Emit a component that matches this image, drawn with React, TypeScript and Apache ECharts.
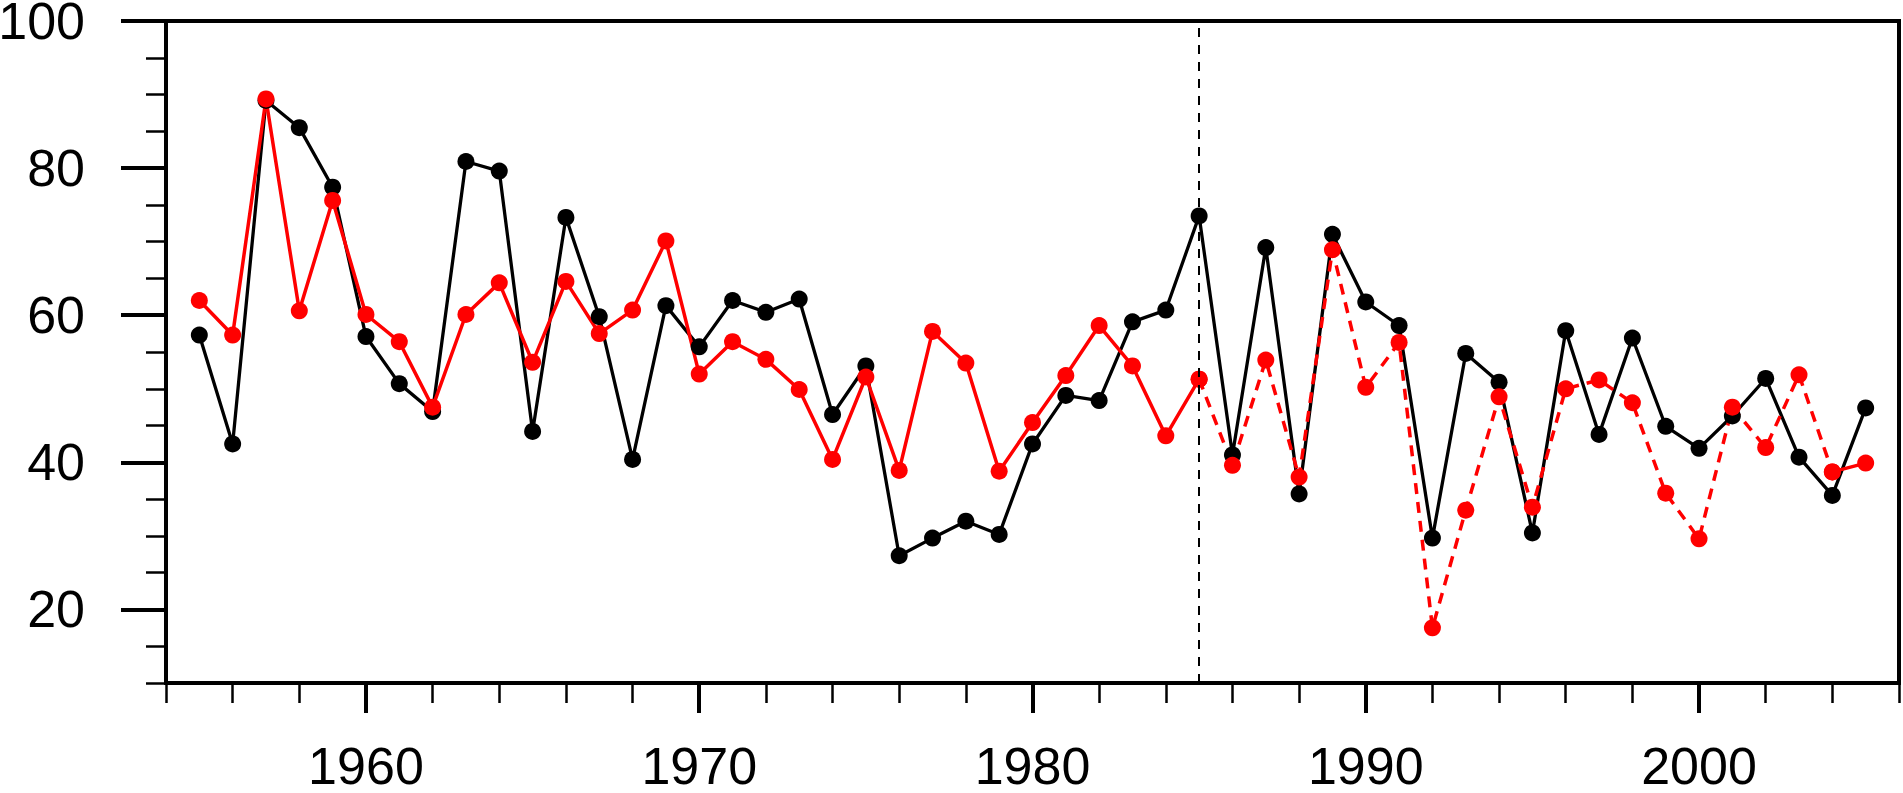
import React, { useEffect, useRef } from "react";
import * as echarts from "echarts";

const years: number[] = [
  1955, 1956, 1957, 1958, 1959, 1960, 1961, 1962, 1963, 1964,
  1965, 1966, 1967, 1968, 1969, 1970, 1971, 1972, 1973, 1974,
  1975, 1976, 1977, 1978, 1979, 1980, 1981, 1982, 1983, 1984,
  1985, 1986, 1987, 1988, 1989, 1990, 1991, 1992, 1993, 1994,
  1995, 1996, 1997, 1998, 1999, 2000, 2001, 2002, 2003, 2004, 2005,
];

const blackValues: number[] = [
  57.3, 42.5, 89.2, 85.5, 77.4, 57.1, 50.7, 46.9, 80.9, 79.6,
  44.2, 73.3, 59.8, 40.4, 61.3, 55.7, 62.0, 60.4, 62.2, 46.5,
  53.1, 27.3, 29.7, 32.0, 30.2, 42.5, 49.1, 48.4, 59.1, 60.7,
  73.5, 41.0, 69.2, 35.7, 71.0, 61.8, 58.6, 29.7, 54.8, 50.9,
  30.4, 57.9, 43.8, 56.9, 44.9, 41.9, 46.3, 51.4, 40.7, 35.5, 47.4,
];

const redValues: number[] = [
  62.0, 57.3, 89.4, 60.6, 75.6, 60.1, 56.4, 47.5, 60.1, 64.4,
  53.6, 64.6, 57.5, 60.7, 70.1, 52.0, 56.4, 54.0, 49.9, 40.4,
  51.6, 38.9, 57.8, 53.5, 38.8, 45.4, 51.8, 58.6, 53.1, 43.6,
  51.3, 39.6, 53.9, 38.0, 68.9, 50.2, 56.3, 17.5, 33.5, 48.9,
  33.9, 50.0, 51.2, 48.1, 35.8, 29.6, 47.5, 42.0, 51.9, 38.7, 39.9,
];

const xLabelValues: number[] = [1960, 1970, 1980, 1990, 2000];
const yLabelValues: number[] = [20, 40, 60, 80, 100];
const splitYear = 1985;
const dashEndYear = 2004;

export default function App() {
  const ref = useRef<HTMLDivElement>(null);

  useEffect(() => {
    document.body.style.margin = "0";
    document.body.style.overflow = "hidden";
    if (!ref.current) return;
    const chart = echarts.init(ref.current, null, { renderer: "svg" });

    const pairs = (vals: number[], from: number, to: number) =>
      years
        .map((y, i) => [y, vals[i]])
        .filter((p) => p[0] >= from && p[0] <= to);

    const font = "Liberation Sans";
    const red = "#ff0000";

    const redBase = {
      type: "line",
      symbol: "circle",
      symbolSize: 17,
      itemStyle: { color: red },
      lineStyle: { color: red, width: 3.5 },
      xAxisIndex: 0,
      yAxisIndex: 0,
      silent: true,
    };

    chart.setOption({
      animation: false,
      backgroundColor: "#ffffff",
      grid: {
        left: 166,
        right: 4,
        top: 21,
        bottom: 110,
        show: true,
        borderColor: "#000",
        borderWidth: 4,
        containLabel: false,
        outerBoundsMode: "none",
      },
      xAxis: [
        {
          type: "value",
          min: 1954,
          max: 2006,
          interval: 2,
          position: "bottom",
          axisLine: { show: true, onZero: false, lineStyle: { color: "#000", width: 4 } },
          axisTick: { show: true, length: 20, lineStyle: { color: "#000", width: 2.5 } },
          axisLabel: {
            show: true,
            customValues: xLabelValues,
            formatter: (v: number) => String(v),
            fontSize: 52,
            fontFamily: font,
            color: "#000",
            margin: 57,
          },
          splitLine: { show: false },
        },
        {
          type: "value",
          min: 1954,
          max: 2006,
          position: "bottom",
          offset: 0,
          axisLine: { show: false, onZero: false },
          axisTick: {
            show: true,
            customValues: xLabelValues,
            length: 30,
            lineStyle: { color: "#000", width: 4 },
          },
          axisLabel: { show: false },
          splitLine: { show: false },
        },
      ],
      yAxis: [
        {
          type: "value",
          min: 10,
          max: 100,
          interval: 5,
          position: "left",
          axisLine: { show: true, onZero: false, lineStyle: { color: "#000", width: 4 } },
          axisTick: { show: true, length: 20, lineStyle: { color: "#000", width: 2.5 } },
          axisLabel: {
            show: true,
            customValues: yLabelValues,
            formatter: (v: number) => String(v),
            fontSize: 52,
            fontFamily: font,
            color: "#000",
            margin: 81,
          },
          splitLine: { show: false },
        },
        {
          type: "value",
          min: 10,
          max: 100,
          position: "left",
          offset: 0,
          axisLine: { show: false, onZero: false },
          axisTick: {
            show: true,
            customValues: yLabelValues,
            length: 45,
            lineStyle: { color: "#000", width: 4 },
          },
          axisLabel: { show: false },
          splitLine: { show: false },
        },
      ],
      series: [
        {
          type: "line",
          data: pairs(blackValues, 1955, 2005),
          symbol: "circle",
          symbolSize: 17,
          itemStyle: { color: "#000" },
          lineStyle: { color: "#000", width: 3.3 },
          xAxisIndex: 0,
          yAxisIndex: 0,
          silent: true,
          markLine: {
            silent: true,
            symbol: "none",
            label: { show: false },
            lineStyle: { color: "#000", width: 2, type: [9, 8] },
            data: [{ xAxis: splitYear }],
          },
        },
        {
          ...redBase,
          data: pairs(redValues, 1955, splitYear),
        },
        {
          ...redBase,
          data: pairs(redValues, splitYear, dashEndYear),
          lineStyle: { color: red, width: 3.5, type: [11, 8] },
        },
        {
          ...redBase,
          data: pairs(redValues, dashEndYear, 2005),
        },
      ],
    });

    return () => chart.dispose();
  }, []);

  return (
    <div
      ref={ref}
      style={{ position: "absolute", left: 0, top: 0, width: 1903, height: 793 }}
    />
  );
}
